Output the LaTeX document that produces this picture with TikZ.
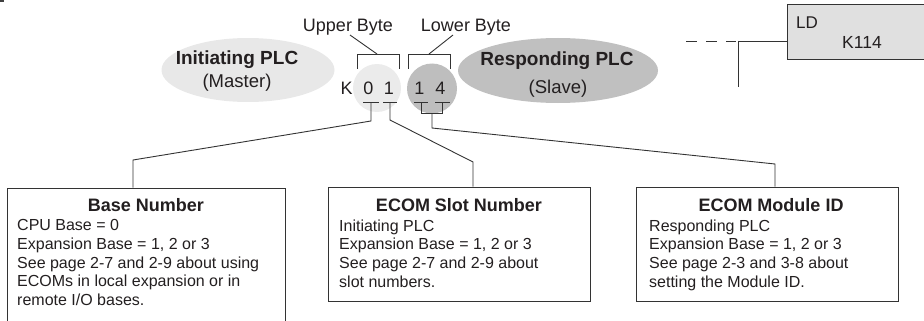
\documentclass[tikz,border=0pt]{standalone}
\usepackage{fontspec}
\setmainfont{Liberation Sans}
\usetikzlibrary{shapes.geometric}
\definecolor{txt}{HTML}{231F20}
\definecolor{lnc}{HTML}{333333}
\definecolor{ellL}{HTML}{E8E8E8}
\definecolor{circL}{HTML}{EBEBEB}
\definecolor{ellR}{HTML}{C0C0C0}
\definecolor{circR}{HTML}{BEBEBE}
\definecolor{ldfill}{HTML}{E0E0E0}
\begin{document}
\begin{tikzpicture}[x=1pt,y=-1pt,
  conn/.style={draw=lnc,line width=0.9pt},
  infobox/.style={rectangle,draw=lnc,line width=1pt,fill=white,inner sep=0pt},
  bodytxt/.style={font=\fontsize{16}{18.6}\selectfont,align=left,anchor=north west,inner sep=0pt,text=txt},
  titletxt/.style={font=\bfseries\fontsize{18}{20}\selectfont,anchor=base,inner sep=0pt,text=txt},
  lbl/.style={font=\fontsize{18}{20}\selectfont,anchor=base,inner sep=0pt,text=txt},
  elltitle/.style={font=\bfseries\fontsize{19}{21}\selectfont,anchor=base,inner sep=0pt,text=txt},
  ellsub/.style={font=\fontsize{18.5}{21}\selectfont,anchor=base,inner sep=0pt,text=txt},
  blob/.style={ellipse,inner sep=0pt,draw=none}]
\useasboundingbox (0,0) rectangle (924,321);
\fill[black!75] (0,0) rectangle (4,2.5);

% ellipses
\node[blob,fill=ellL,minimum width=173pt,minimum height=64pt] (ini) at (248,70) {};
\node[blob,fill=ellR,minimum width=200pt,minimum height=65pt] (resp) at (558,70.5) {};
\node[elltitle] (initxt) at (237,65) {Initiating PLC};
\node[ellsub] (mastxt) at (237,88) {(Master)};
\node[elltitle] (resptxt) at (557,66) {Responding PLC};
\node[ellsub] (slavtxt) at (558,93) {(Slave)};

% circles
\node[circle,fill=circL,minimum size=48pt,inner sep=0pt] (cl) at (377,88) {};
\node[circle,fill=circR,minimum size=50pt,inner sep=0pt] (cr) at (432,88.5) {};

% K 0 1 1 4
\node[lbl] (k) at (346.5,94.5) {K};
\node[lbl] (d0) at (368.5,94.5) {0};
\node[lbl] (d1) at (389,94.5) {1};
\node[lbl] (d2) at (419.5,94.5) {1};
\node[lbl] (d3) at (440.5,94.5) {4};

% byte labels and brackets
\node[lbl] (ub) at (348,32) {Upper Byte};
\node[lbl] (lb) at (466,32) {Lower Byte};
\coordinate (ubk) at (377,54);
\coordinate (lbk) at (429,54);
\draw[conn] (357,69) -- (357,54) -- (399,54) -- (399,69);
\draw[conn] (408,69) -- (408,54) -- (450,54) -- (450,69);
\draw[conn] (350,35) -- (ubk);
\draw[conn] (453,35) -- (lbk);

% boxes
\node[infobox,minimum width=278pt,minimum height=152pt] (b1) at (146,264) {};
\node[infobox,minimum width=262pt,minimum height=114pt] (b2) at (459,244) {};
\node[infobox,minimum width=262pt,minimum height=114pt] (b3) at (767,244) {};

\node[titletxt] (t1) at (146,211) {Base Number};
\node[titletxt] (t2) at (459,211) {ECOM Slot Number};
\node[titletxt] (t3) at (771,211) {ECOM Module ID};

\node[bodytxt] (x1) at (17,219.5) {CPU Base = 0\\Expansion Base = 1, 2 or 3\\See page 2-7 and 2-9 about using\\ECOMs in local expansion or in\\remote I/O bases.};
\node[bodytxt] (x2) at (339,219.5) {Initiating PLC\\Expansion Base = 1, 2 or 3\\See page 2-7 and 2-9 about\\slot numbers.};
\node[bodytxt] (x3) at (649,219.5) {Responding PLC\\Expansion Base = 1, 2 or 3\\See page 2-3 and 3-8 about\\setting the Module ID.};

% underlines and connectors
\draw[conn] (363,102) -- (379,102);
\draw[conn] (383,102) -- (397,102);
\draw[conn] (414,102) -- (428,102);
\draw[conn] (435,102) -- (450,102);
\draw[conn] (371,102) -- (371,121) -- (133,160) -- (133,160 |- b1.north);
\draw[conn] (390,102) -- (390,120) -- (473,162) -- (473,162 |- b2.north);
\draw[conn] (421,102) -- (421,113) -- (442,113) -- (442,102);
\draw[conn] (432,113) -- (432,128) -- (775,164) -- (775,164 |- b3.north);

% ladder rung with LD box
\node[rectangle,draw=lnc,line width=1pt,fill=ldfill,minimum width=143pt,minimum height=55pt,inner sep=0pt] (ld) at (858.5,32.5) {};
\node[lbl,anchor=base west,font=\fontsize{17}{19}\selectfont] (ldtxt) at (796,28.5) {LD};
\node[lbl,anchor=base west,font=\fontsize{17.5}{19}\selectfont] (ktxt) at (842,49) {K114};
\coordinate (rs) at (686,41);
\coordinate (re) at (736,41);
\coordinate (rj) at (738,41);
\coordinate (rd) at (738,87);
\draw[conn,dash pattern=on 10.5pt off 9.5pt] (rs) -- (re);
\draw[conn] (rj) -- (ld.west |- rj);
\draw[conn] (rj) -- (rd);
\end{tikzpicture}
\end{document}
